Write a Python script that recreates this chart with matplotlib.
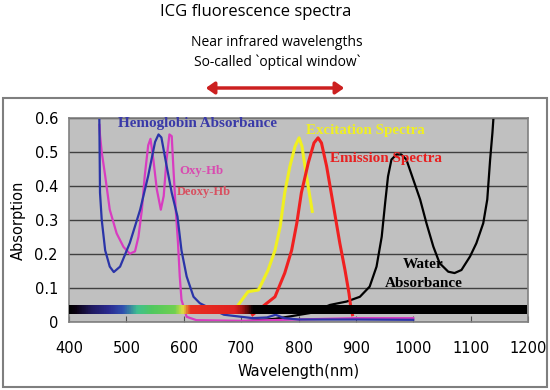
import numpy as np
import matplotlib.pyplot as plt
from matplotlib.colors import LinearSegmentedColormap
from matplotlib.patches import Rectangle, FancyArrowPatch

# Hemoglobin absorbance (blue)
hb_nm = [452.8, 454, 457, 463, 471, 478, 489, 506, 524, 538, 550, 556, 561, 570, 579, 589, 596, 605, 617, 628, 640,
         670, 720, 745, 760, 775, 800, 900, 1000]
hb_abs = [0.606, 0.38, 0.30, 0.21, 0.162, 0.146, 0.162, 0.232, 0.33, 0.43, 0.53, 0.552, 0.543, 0.46, 0.38, 0.31, 0.21,
          0.133, 0.073, 0.054, 0.044, 0.02, 0.01, 0.012, 0.02, 0.01, 0.006, 0.006, 0.005]

# Oxy / deoxy hemoglobin (magenta)
oxy_nm = [453, 454, 457, 463, 471, 483, 495, 506, 515, 521, 527, 532, 538, 542, 547, 553, 560, 565, 570, 575, 579,
          582, 586, 590, 593, 596, 605, 622, 700, 800, 900, 1000]
oxy_abs = [0.58, 0.55, 0.50, 0.43, 0.33, 0.26, 0.22, 0.20, 0.207, 0.25, 0.33, 0.43, 0.52, 0.539, 0.478, 0.39, 0.33,
           0.37, 0.478, 0.552, 0.547, 0.45, 0.33, 0.23, 0.133, 0.064, 0.014, 0.004, 0.002, 0.006, 0.01, 0.01]

# ICG excitation spectrum (yellow)
exc_nm = [690, 695, 712, 730, 736, 747, 759, 768, 776, 785, 794, 801, 806, 814, 824]
exc_abs = [0.035, 0.049, 0.088, 0.093, 0.113, 0.152, 0.21, 0.28, 0.38, 0.458, 0.517, 0.542, 0.517, 0.428, 0.325]

# ICG emission spectrum (red)
emi_nm = [720, 741, 759, 776, 788, 797, 805, 817, 827, 834, 840, 849, 860, 872, 881, 888, 891, 894]
emi_abs = [0.02, 0.049, 0.073, 0.143, 0.21, 0.29, 0.38, 0.468, 0.527, 0.542, 0.527, 0.458, 0.35, 0.231, 0.152, 0.083,
           0.044, 0.02]

# Water absorbance (black)
wat_nm = [660, 700, 760, 820, 855, 884, 907, 924, 936, 945, 951, 956, 962, 971, 979, 988, 1000, 1012, 1023, 1035,
          1046, 1061, 1072, 1084, 1099, 1110, 1122, 1129, 1134, 1138, 1140]
wat_abs = [-0.005, 0.0, 0.008, 0.025, 0.049, 0.059, 0.073, 0.103, 0.162, 0.25, 0.35, 0.428, 0.478, 0.493, 0.493, 0.478,
           0.419, 0.36, 0.29, 0.221, 0.172, 0.147, 0.143, 0.152, 0.192, 0.231, 0.29, 0.36, 0.478, 0.557, 0.606]

# visible spectrum bar colours (wavelength, colour)
bar_stops = [(400, "#000000"), (412, "#0a0010"), (440, "#201a60"), (470, "#2a2a90"), (495, "#3050b0"),
             (520, "#40c090"), (545, "#50c860"), (585, "#70d050"), (600, "#e0e040"), (612, "#e83020"),
             (690, "#e02020"), (705, "#a01010"), (722, "#000000"), (1200, "#000000")]

fig = plt.figure(figsize=(5.5, 3.9), dpi=100)
fig.patches.append(Rectangle((0.006, 0.008), 0.988, 0.74, transform=fig.transFigure,
                             fill=False, edgecolor="#7f7f7f", linewidth=1.5))

ax = fig.add_axes([0.1255, 0.1756, 0.8345, 0.5214])
ax.set_facecolor("#c0c0c0")
ax.set_xlim(400, 1200)
ax.set_ylim(0, 0.6)
ax.set_yticks(np.arange(0, 0.61, 0.1))
ax.set_yticklabels(["0", "0.1", "0.2", "0.3", "0.4", "0.5", "0.6"])
ax.set_xticks(range(400, 1201, 100))
ax.grid(axis="y", color="#404040", linewidth=1.0)
ax.set_axisbelow(True)
ax.tick_params(axis="both", labelsize=10.5, length=4, direction="in", color="#505050")
ax.tick_params(axis="y", length=0, pad=8)
ax.tick_params(axis="x", pad=14)
for s in ax.spines.values():
    s.set_color("#808080")
    s.set_linewidth(1.2)

ax.plot(wat_nm, wat_abs, color="black", lw=1.6)
ax.plot(oxy_nm, oxy_abs, color="#d83cc0", lw=1.6)
ax.plot(hb_nm, hb_abs, color="#2a34a8", lw=1.6)
ax.plot(exc_nm, exc_abs, color="#f0f020", lw=2.2)
ax.plot(emi_nm, emi_abs, color="#f02020", lw=2.2)

cmap = LinearSegmentedColormap.from_list(
    "vis", [((w - 400) / 800, c) for w, c in bar_stops])
ax.imshow(np.linspace(0, 1, 800).reshape(1, -1), cmap=cmap, aspect="auto",
          extent=(398, 1197, 0.022, 0.046), zorder=5)

serif = dict(family="Liberation Serif", fontweight="bold")
ax.text(485, 0.585, "Hemoglobin Absorbance", color="#3a3aa8", fontsize=10.9, va="center", **serif)
ax.text(593, 0.445, "Oxy-Hb", color="#d84cb0", fontsize=9.2, va="center", **serif)
ax.text(588, 0.383, "Deoxy-Hb", color="#d85060", fontsize=9, va="center", **serif)
ax.text(813, 0.565, "Excitation Spectra", color="#f0f020", fontsize=10.8, va="center", **serif)
ax.text(855, 0.482, "Emission Spectra", color="#e82020", fontsize=10.9, va="center", **serif)
ax.text(982, 0.167, "Water", color="black", fontsize=11, va="center", **serif)
ax.text(950, 0.111, "Absorbance", color="black", fontsize=11, va="center", **serif)

ax.set_ylabel("Absorption", fontsize=10.5, labelpad=6)
ax.set_xlabel("Wavelength(nm)", fontsize=10.5, labelpad=6)

fig.text(0.464, 0.969, "ICG fluorescence spectra", ha="center", va="center",
         fontsize=12, family="Open Sans")
fig.text(0.504, 0.892, "Near infrared wavelengths", ha="center", va="center",
         fontsize=10, family="Open Sans")
fig.text(0.504, 0.841, "So-called `optical window`", ha="center", va="center",
         fontsize=10, family="Open Sans")
fig.patches.append(FancyArrowPatch(
    (203 / 550, 1 - 88 / 390), (347 / 550, 1 - 88 / 390), transform=fig.transFigure,
    arrowstyle="<|-|>,head_length=5,head_width=3.5", color="#cc2020", linewidth=2.5,
    mutation_scale=1))

fig.savefig("out.png", dpi=100)
